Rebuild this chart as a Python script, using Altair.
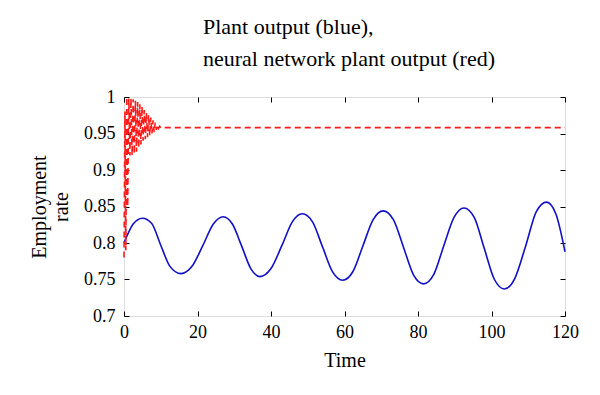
import altair as alt
import pandas as pd

# Plant output (blue)
plant_t = [0, 2.5, 5, 7.5, 10, 12.5, 15.5, 18.5, 21.5, 24.3, 27, 29.5, 32, 34.5, 37,
           40, 43, 45.8, 48.5, 51.3, 54, 56.8, 59.5, 62.3, 65, 67.8, 70.5, 73.3, 76,
           78.8, 81.5, 84.3, 87, 89.8, 92.5, 95.3, 98, 100.8, 103.5, 106.3, 109.3,
           112.2, 115, 117.5, 120]
plant_y = [0.800, 0.826, 0.834, 0.827, 0.797, 0.768, 0.758, 0.768, 0.797, 0.826, 0.836,
           0.826, 0.796, 0.765, 0.754, 0.765, 0.797, 0.829, 0.840, 0.829, 0.795, 0.760,
           0.749, 0.761, 0.796, 0.832, 0.844, 0.832, 0.795, 0.756, 0.744, 0.757, 0.796,
           0.835, 0.848, 0.835, 0.793, 0.750, 0.737, 0.751, 0.796, 0.843, 0.856, 0.840,
           0.788]

# Neural network plant output (red)
nn_t = [0.0, 0.25, 0.5, 0.75, 1.0, 1.3, 1.6, 1.9, 2.2, 2.5, 2.8, 3.1, 3.4, 3.7, 4.0,
        4.3, 4.6, 4.9, 5.2, 5.5, 5.8, 6.1, 6.4, 6.7, 7.0, 7.3, 7.6, 7.9, 8.2, 8.5,
        8.8, 9.1, 9.4, 9.7, 10.0, 120]
nn_y = [0.78, 0.98, 0.79, 1.00, 0.85, 0.998, 0.92, 0.998, 0.92, 0.997, 0.922, 0.995,
        0.925, 0.993, 0.93, 0.99, 0.935, 0.987, 0.94, 0.982, 0.942, 0.978, 0.945,
        0.975, 0.947, 0.972, 0.95, 0.968, 0.952, 0.965, 0.955, 0.962, 0.957, 0.96,
        0.958, 0.958]

x_ticks = [0, 20, 40, 60, 80, 100, 120]
y_ticks = [0.7, 0.75, 0.8, 0.85, 0.9, 0.95, 1.0]

plant = pd.DataFrame({"t": plant_t, "y": plant_y})
nn = pd.DataFrame({"t": nn_t, "y": nn_y})

font = "Liberation Serif"
x_scale = alt.Scale(domain=[0, 120], nice=False, zero=False)
y_scale = alt.Scale(domain=[0.7, 1.0], nice=False, zero=False)

common = dict(domain=False, grid=False, tickSize=5, offset=-5, tickColor="black",
              labelFont=font, labelFontSize=18, labelColor="black", labelFlush=False,
              titleFont=font, titleFontSize=20, titleFontWeight="normal",
              titleColor="black")

x_bottom = alt.Axis(title="Time", values=x_ticks, orient="bottom", labelPadding=7,
                    titlePadding=9, **common)
y_left = alt.Axis(title=["Employment", "rate"], values=y_ticks, orient="left",
                  labelPadding=9, titlePadding=12, titleLineHeight=22,
                  format="~g", **common)
x_top = alt.Axis(title=None, values=x_ticks, orient="top", labels=False, **common)
y_right = alt.Axis(title=None, values=y_ticks, orient="right", labels=False, **common)

blue = alt.Chart(plant).mark_line(color="#1010c8", strokeWidth=1.6,
                                  interpolate="monotone").encode(
    x=alt.X("t:Q", scale=x_scale, axis=x_bottom),
    y=alt.Y("y:Q", scale=y_scale, axis=y_left),
)
red = alt.Chart(nn).mark_line(color="#ff1a1a", strokeWidth=1.6, strokeDash=[6, 4]).encode(
    x=alt.X("t:Q", scale=x_scale, axis=x_top),
    y=alt.Y("y:Q", scale=y_scale, axis=y_right),
)

chart = alt.layer(blue, red).resolve_axis(x="independent", y="independent").properties(
    width=441, height=219,
    autosize=alt.AutoSizeParams(type="none"),
    padding={"left": 116, "top": 89, "right": 27, "bottom": 71},
    title=alt.Title(text=["Plant output (blue),", "neural network plant output (red)"],
                    anchor="start", align="left", frame="group", dx=79, font=font,
                    fontSize=22, fontWeight="normal", lineHeight=32, offset=17,
                    color="black"),
).configure_view(stroke="black", strokeWidth=1).configure(background="white")

chart.save("out.html", embed_options={"renderer": "svg", "actions": False})
